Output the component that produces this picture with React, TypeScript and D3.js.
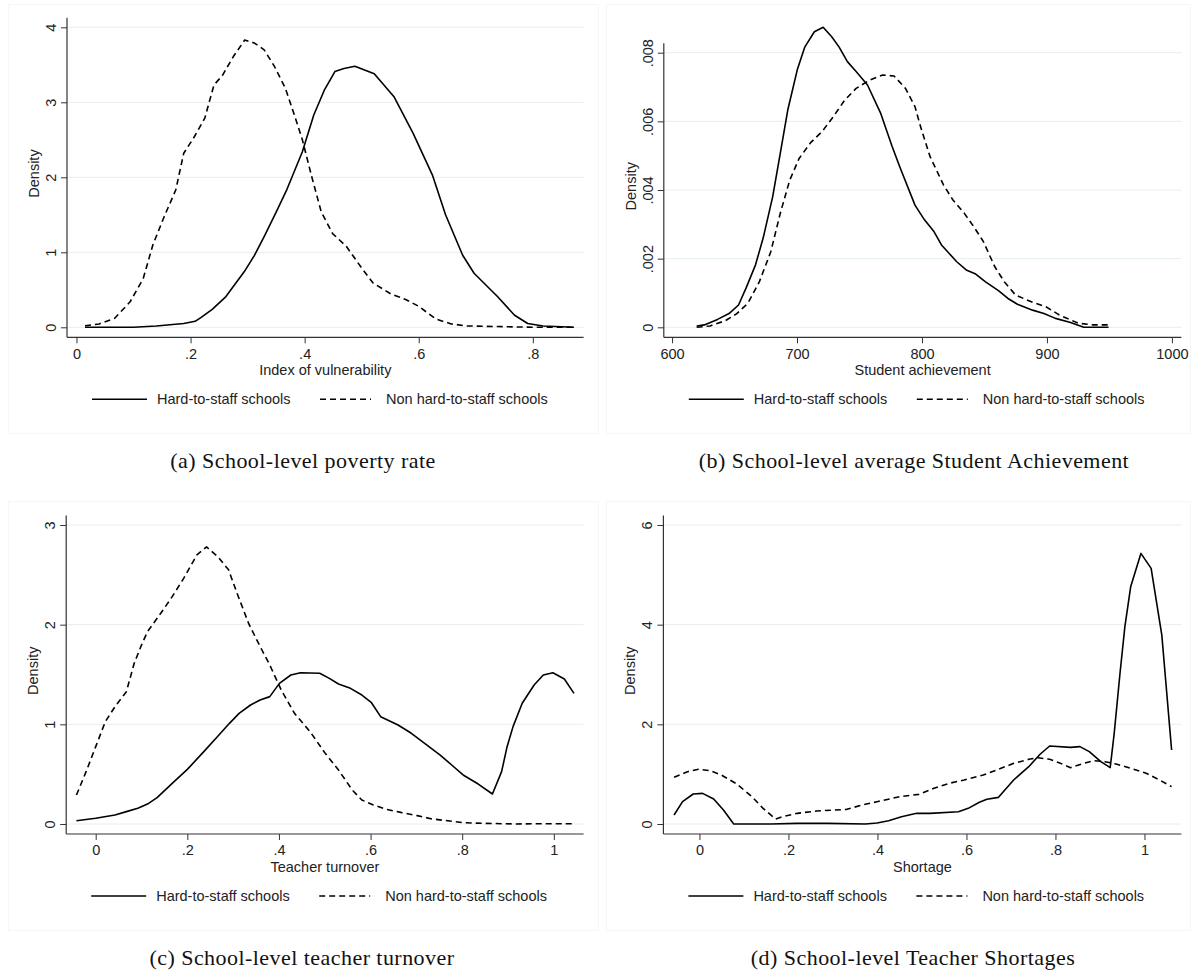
import React, { useEffect, useRef } from 'react';
import * as d3 from 'd3';

// kernel density curves: [x, density]
const povertyHard = [
  [0.015, 0], [0.1, 0], [0.14, 0.018], [0.188, 0.05], [0.208, 0.08], [0.218, 0.13], [0.238, 0.24],
  [0.262, 0.41], [0.294, 0.74], [0.312, 0.96], [0.329, 1.21], [0.349, 1.52], [0.369, 1.84], [0.396, 2.34],
  [0.416, 2.83], [0.435, 3.17], [0.453, 3.41], [0.469, 3.45], [0.488, 3.48], [0.522, 3.38], [0.557, 3.07],
  [0.59, 2.59], [0.624, 2.03], [0.647, 1.5], [0.677, 0.96], [0.697, 0.72], [0.738, 0.41], [0.768, 0.16],
  [0.791, 0.05], [0.818, 0.018], [0.872, 0],
];
const povertyNon = [
  [0.015, 0.02], [0.04, 0.045], [0.067, 0.12], [0.094, 0.34], [0.117, 0.65], [0.134, 1.1], [0.154, 1.48],
  [0.174, 1.83], [0.188, 2.32], [0.205, 2.52], [0.225, 2.79], [0.241, 3.23], [0.256, 3.36], [0.275, 3.61],
  [0.295, 3.83], [0.312, 3.79], [0.329, 3.7], [0.347, 3.48], [0.366, 3.19], [0.382, 2.83], [0.396, 2.5],
  [0.412, 2.02], [0.429, 1.54], [0.449, 1.25], [0.473, 1.08], [0.5, 0.79], [0.52, 0.59], [0.55, 0.45],
  [0.577, 0.37], [0.6, 0.28], [0.63, 0.11], [0.657, 0.045], [0.684, 0.018], [0.738, 0.01], [0.805, 0],
  [0.872, 0],
];
const achievementHard = [
  [619.7, 0.00004], [625.8, 0.00007], [636.4, 0.00023], [645.6, 0.0004], [653.2, 0.00065], [659.2, 0.00114],
  [666.8, 0.00182], [672.9, 0.0026], [680.5, 0.0038], [686.6, 0.00507], [692.6, 0.00633], [700.2, 0.0075],
  [706.3, 0.00817], [713.9, 0.00861], [720.9, 0.00874], [727.6, 0.00847], [733.6, 0.00817], [740.3, 0.00774],
  [747.3, 0.00745], [756.4, 0.00706], [767, 0.00623], [776.2, 0.00526], [782.2, 0.00468], [794.4, 0.00356],
  [802, 0.00313], [809.6, 0.00279], [815.6, 0.0024], [827.8, 0.00191], [835.4, 0.00167], [843, 0.00155],
  [850.6, 0.00133], [861.2, 0.00107], [868.8, 0.00084], [876.4, 0.00067], [888.5, 0.0005], [897.6, 0.0004],
  [906.8, 0.00026], [918.9, 0.00014], [929.5, 0], [949.3, 0],
];
const achievementNon = [
  [619.7, 0], [630.4, 0.00004], [642.5, 0.00019], [651.6, 0.00039], [660.7, 0.0007], [669.9, 0.00133],
  [679, 0.0022], [686.6, 0.00332], [694.2, 0.00429], [701.7, 0.00492], [710.9, 0.00538], [720, 0.0057],
  [729.1, 0.00614], [738.2, 0.00662], [747.3, 0.00696], [757.9, 0.0072], [768.6, 0.00735], [777.7, 0.00732],
  [786.8, 0.00696], [794.4, 0.00643], [798.9, 0.00584], [806.5, 0.00497], [817.2, 0.00415], [824.8, 0.00371],
  [833.9, 0.00332], [841.5, 0.00293], [849.1, 0.0025], [858.2, 0.00177], [865.8, 0.00133], [874.9, 0.00094],
  [887, 0.00075], [899.2, 0.0006], [909.8, 0.00036], [925, 0.00012], [937.1, 0.00007], [949.3, 0.00007],
];
const turnoverHard = [
  [-0.042, 0.033], [0, 0.057], [0.042, 0.09], [0.067, 0.124], [0.092, 0.157], [0.113, 0.2], [0.134, 0.264],
  [0.167, 0.408], [0.2, 0.548], [0.234, 0.716], [0.267, 0.883], [0.292, 1.01], [0.313, 1.11], [0.338, 1.194],
  [0.359, 1.244], [0.38, 1.278], [0.401, 1.411], [0.426, 1.495], [0.447, 1.518], [0.489, 1.512],
  [0.51, 1.461], [0.53, 1.405], [0.556, 1.361], [0.581, 1.294], [0.602, 1.217], [0.622, 1.077],
  [0.66, 0.993], [0.689, 0.91], [0.718, 0.809], [0.752, 0.692], [0.777, 0.592], [0.802, 0.492],
  [0.835, 0.401], [0.866, 0.301], [0.886, 0.525], [0.898, 0.776], [0.911, 0.977], [0.931, 1.211],
  [0.957, 1.395], [0.977, 1.495], [0.998, 1.518], [1.023, 1.455], [1.044, 1.311],
];
const turnoverNon = [
  [-0.042, 0.291], [-0.021, 0.525], [0, 0.776], [0.021, 1.027], [0.042, 1.177], [0.067, 1.328],
  [0.084, 1.612], [0.1, 1.796], [0.113, 1.93], [0.142, 2.114], [0.167, 2.281], [0.192, 2.465],
  [0.221, 2.7], [0.242, 2.78], [0.267, 2.68], [0.29, 2.55], [0.309, 2.31], [0.334, 2.01], [0.359, 1.78],
  [0.38, 1.595], [0.405, 1.344], [0.434, 1.11], [0.468, 0.926], [0.501, 0.709], [0.53, 0.542],
  [0.56, 0.341], [0.581, 0.241], [0.606, 0.191], [0.635, 0.147], [0.668, 0.114], [0.702, 0.084],
  [0.735, 0.05], [0.773, 0.03], [0.802, 0.013], [0.844, 0.007], [0.919, 0], [0.961, 0.003], [1.04, 0.003],
];
const shortageHard = [
  [-0.057, 0.18], [-0.038, 0.448], [-0.014, 0.602], [0.007, 0.615], [0.032, 0.502], [0.054, 0.281],
  [0.077, 0], [0.16, 0], [0.22, 0.013], [0.288, 0.013], [0.373, 0], [0.399, 0.02], [0.425, 0.067],
  [0.454, 0.147], [0.488, 0.214], [0.518, 0.214], [0.582, 0.247], [0.604, 0.314], [0.629, 0.435],
  [0.646, 0.495], [0.672, 0.535], [0.706, 0.883], [0.74, 1.15], [0.766, 1.405], [0.787, 1.565],
  [0.834, 1.538], [0.855, 1.552], [0.876, 1.452], [0.902, 1.251], [0.923, 1.13], [0.932, 1.82],
  [0.945, 3.02], [0.956, 3.96], [0.969, 4.76], [0.992, 5.43], [1.015, 5.13], [1.039, 3.79], [1.061, 1.485],
];
const shortageNon = [
  [-0.057, 0.936], [-0.027, 1.05], [-0.002, 1.097], [0.024, 1.07], [0.049, 0.983], [0.084, 0.803],
  [0.118, 0.548], [0.143, 0.314], [0.171, 0.1], [0.186, 0.147], [0.22, 0.214], [0.263, 0.261],
  [0.305, 0.281], [0.331, 0.294], [0.365, 0.381], [0.399, 0.448], [0.45, 0.548], [0.493, 0.595],
  [0.527, 0.716], [0.561, 0.816], [0.595, 0.883], [0.638, 0.983], [0.672, 1.097], [0.706, 1.217],
  [0.74, 1.298], [0.761, 1.331], [0.787, 1.298], [0.808, 1.231], [0.834, 1.13], [0.859, 1.204],
  [0.885, 1.271], [0.911, 1.251], [0.936, 1.204], [0.97, 1.117], [1.004, 1.017], [1.034, 0.883],
  [1.061, 0.749],
];

const seriesNames = ['Hard-to-staff schools', 'Non hard-to-staff schools'];
const xTitles = ['Index of vulnerability', 'Student achievement', 'Teacher turnover', 'Shortage'];
const captions = [
  '(a) School-level poverty rate',
  '(b) School-level average Student Achievement',
  '(c) School-level teacher turnover',
  '(d) School-level Teacher Shortages',
];
const xTicks = [
  [0, 0.2, 0.4, 0.6, 0.8],
  [600, 700, 800, 900, 1000],
  [0, 0.2, 0.4, 0.6, 0.8, 1],
  [0, 0.2, 0.4, 0.6, 0.8, 1],
];
const yTicks = [
  [0, 1, 2, 3, 4],
  [0, 0.002, 0.004, 0.006, 0.008],
  [0, 1, 2, 3],
  [0, 2, 4, 6],
];
const xDomains = [[-0.0166, 0.889], [593.4, 1007.6], [-0.0644, 1.065], [-0.081, 1.083]];
const seriesData = [
  [povertyHard, povertyNon],
  [achievementHard, achievementNon],
  [turnoverHard, turnoverNon],
  [shortageHard, shortageNon],
];

// pixel frame of each panel: axis x, plot right end, y of zero line, y of top tick, caption centre
const layout = [
  { left: 67, right: 583.6, y0: 327.3, yTop: 27.3, bx: 8, by: 4, bw: 590, capX: 303 },
  { left: 663.8, right: 1181.4, y0: 327.3, yTop: 52.7, bx: 606, by: 4, bw: 584, capX: 914 },
  { left: 66.2, right: 583.6, y0: 824, yTop: 525, bx: 8, by: 501, bw: 590, capX: 302 },
  { left: 663.4, right: 1181.4, y0: 824, yTop: 525, bx: 606, by: 501, bw: 584, capX: 913 },
];

const fmt = (d: number) => (d === 0 ? '0' : String(d).replace(/^0\./, '.'));
const sans = '"Liberation Sans", Arial, sans-serif';
const fs = 14.5;

const App = () => {
  const svgRef = useRef<SVGSVGElement>(null);

  useEffect(() => {
    const svg = d3.select(svgRef.current);
    svg.selectAll('*').remove();

    svg.append('rect').attr('width', 1195).attr('height', 970).attr('fill', '#fff');

    layout.forEach((L, i) => {
      const g = svg.append('g');
      const yTickVals = yTicks[i];
      const yMaxTick = yTickVals[yTickVals.length - 1];

      const x = d3.scaleLinear().domain(xDomains[i]).range([L.left, L.right]);
      const y = d3.scaleLinear().domain([0, yMaxTick]).range([L.y0, L.yTop]);
      const axisY = L.y0 + 10;
      const axisTop = L.yTop - 9.5;

      // faint panel frame
      g.append('rect')
        .attr('x', L.bx + 0.5).attr('y', L.by + 0.5)
        .attr('width', L.bw).attr('height', 429)
        .attr('fill', 'none').attr('stroke', '#f6f6f6');

      // grid lines
      g.selectAll('.grid')
        .data(yTickVals)
        .enter()
        .append('line')
        .attr('x1', L.left).attr('x2', L.right)
        .attr('y1', d => y(d)).attr('y2', d => y(d))
        .attr('stroke', '#e6eef0').attr('stroke-width', 1);

      // y axis
      const ya = g.append('g')
        .attr('transform', `translate(${L.left},0)`)
        .call(d3.axisLeft(y).tickValues(yTickVals).tickSize(6).tickPadding(0).tickFormat(d => fmt(+d)));
      ya.select('.domain').remove();
      ya.selectAll('.tick line').attr('stroke', '#333');
      ya.selectAll('.tick text')
        .attr('x', null).attr('dy', '0.35em')
        .attr('text-anchor', 'middle')
        .attr('transform', `translate(${-16},0) rotate(-90)`)
        .attr('font-family', sans).attr('font-size', fs).attr('fill', '#222');
      g.append('line')
        .attr('x1', L.left).attr('x2', L.left).attr('y1', axisTop).attr('y2', axisY)
        .attr('stroke', '#333').attr('stroke-width', 1.2);

      // x axis
      const xa = g.append('g')
        .attr('transform', `translate(0,${axisY})`)
        .call(d3.axisBottom(x).tickValues(xTicks[i]).tickSize(6).tickPadding(5).tickFormat(d => fmt(+d)));
      xa.select('.domain').remove();
      xa.selectAll('.tick line').attr('stroke', '#333');
      xa.selectAll('.tick text')
        .attr('font-family', sans).attr('font-size', fs).attr('fill', '#222');
      g.append('line')
        .attr('x1', L.left).attr('x2', L.right).attr('y1', axisY).attr('y2', axisY)
        .attr('stroke', '#333').attr('stroke-width', 1.2);

      // axis titles
      g.append('text')
        .attr('transform', `translate(${L.left - 33},${(axisTop + axisY) / 2 - 4}) rotate(-90)`)
        .attr('text-anchor', 'middle').attr('dy', '0.35em')
        .attr('font-family', sans).attr('font-size', fs).attr('fill', '#222')
        .text('Density');
      g.append('text')
        .attr('x', (L.left + L.right) / 2).attr('y', L.y0 + 43).attr('dy', '0.35em')
        .attr('text-anchor', 'middle')
        .attr('font-family', sans).attr('font-size', fs).attr('fill', '#222')
        .text(xTitles[i]);

      // density curves, joined point to point as in the source graph
      const line = d3.line<number[]>()
        .x(d => x(d[0]))
        .y(d => y(d[1]))
        .curve(d3.curveLinear);
      seriesData[i].forEach((s, k) => {
        g.append('path')
          .attr('d', line(s))
          .attr('fill', 'none')
          .attr('stroke', '#000')
          .attr('stroke-width', 1.6)
          .attr('stroke-linejoin', 'round')
          .attr('stroke-dasharray', k === 1 ? '6,4' : null);
      });

      // legend
      const ly = L.y0 + 72;
      const legendItems = [
        { x1: 25, x2: 80, tx: 90 },
        { x1: 253, x2: 304, tx: 319 },
      ];
      legendItems.forEach((it, k) => {
        g.append('line')
          .attr('x1', L.left + it.x1).attr('x2', L.left + it.x2)
          .attr('y1', ly).attr('y2', ly)
          .attr('stroke', '#000').attr('stroke-width', 1.6)
          .attr('stroke-dasharray', k === 1 ? '6,4' : null);
        g.append('text')
          .attr('x', L.left + it.tx).attr('y', ly).attr('dy', '0.35em')
          .attr('font-family', sans).attr('font-size', fs).attr('fill', '#222')
          .text(seriesNames[k]);
      });

      // caption
      svg.append('text')
        .attr('x', L.capX).attr('y', L.y0 + 141)
        .attr('text-anchor', 'middle')
        .attr('font-family', '"Liberation Serif", "Times New Roman", serif')
        .attr('font-size', 22).attr('letter-spacing', 0.45).attr('fill', '#111')
        .text(captions[i]);
    });
  }, []);

  return (
    <svg
      ref={svgRef}
      width={1195}
      height={970}
      style={{ position: 'absolute', left: 0, top: 0, display: 'block' }}
    />
  );
};

export default App;
